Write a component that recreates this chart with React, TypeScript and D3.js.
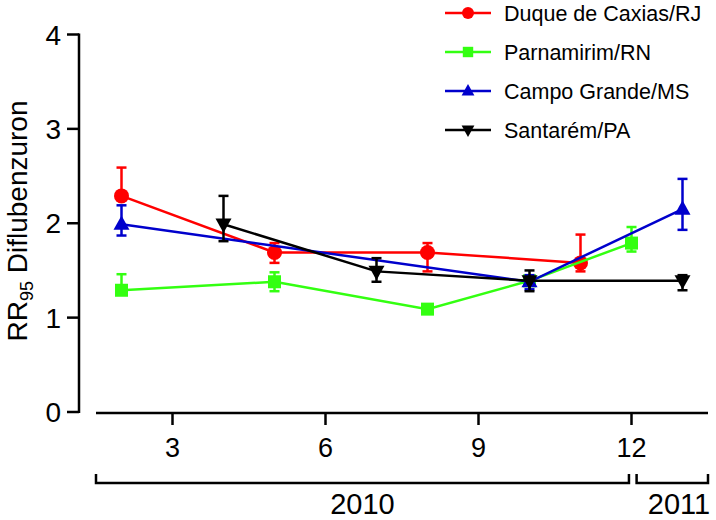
import React from "react";
import * as d3 from "d3";

const seriesNames = ["Duque de Caxias/RJ", "Parnamirim/RN", "Campo Grande/MS", "Santarém/PA"];
const seriesColors = ["#ff0000", "#33ff11", "#0000cc", "#000000"];
const seriesMarkers = ["circle", "square", "triangle", "triangleDown"];

const duqueMonths = [2, 5, 8, 11];
const duqueValues = [2.29, 1.69, 1.69, 1.58];
const duqueLow = [2.25, 1.58, 1.49, 1.49];
const duqueHigh = [2.59, 1.79, 1.79, 1.88];

const parnaMonths = [2, 5, 8, 10, 12];
const parnaValues = [1.29, 1.38, 1.09, 1.39, 1.79];
const parnaLow = [1.25, 1.28, 1.06, 1.36, 1.7];
const parnaHigh = [1.46, 1.48, 1.12, 1.42, 1.96];

const campoMonths = [2, 10, 13];
const campoValues = [1.99, 1.38, 2.15];
const campoLow = [1.87, 1.3, 1.93];
const campoHigh = [2.19, 1.45, 2.47];

const santMonths = [4, 7, 10, 13];
const santValues = [1.99, 1.49, 1.39, 1.39];
const santLow = [1.81, 1.38, 1.28, 1.29];
const santHigh = [2.29, 1.63, 1.5, 1.45];

const xTicks = [3, 6, 9, 12];
const yTicks = [0, 1, 2, 3, 4];
const yearLabels = ["2010", "2011"];
const yearStart = [1.5, 12.1];
const yearEnd = [11.95, 13.5];

const FONT = "'Liberation Sans', Arial, Helvetica, sans-serif";

function Marker({ type, x, y, color, s = 1 }: { type: string; x: number; y: number; color: string; s?: number }) {
  if (type === "circle") return <circle cx={x} cy={y} r={7.5 * s} fill={color} />;
  if (type === "square") return <rect x={x - 6.5 * s} y={y - 6.5 * s} width={13 * s} height={13 * s} fill={color} />;
  const h = 8 * s;
  if (type === "triangle")
    return <path d={`M${x},${y - h * 1.1} L${x + h},${y + h * 0.7} L${x - h},${y + h * 0.7} Z`} fill={color} />;
  return <path d={`M${x},${y + h * 1.1} L${x + h},${y - h * 0.7} L${x - h},${y - h * 0.7} Z`} fill={color} />;
}

export default function App() {
  const x = d3.scaleLinear().domain([1.5, 13.5]).range([96, 708]);
  const y = d3.scaleLinear().domain([0, 4]).range([412, 34.5]);

  const series = [
    { m: duqueMonths, v: duqueValues, lo: duqueLow, hi: duqueHigh },
    { m: parnaMonths, v: parnaValues, lo: parnaLow, hi: parnaHigh },
    { m: campoMonths, v: campoValues, lo: campoLow, hi: campoHigh },
    { m: santMonths, v: santValues, lo: santLow, hi: santHigh },
  ];

  const line = d3
    .line<[number, number]>()
    .x((d) => x(d[0]))
    .y((d) => y(d[1]));

  const axisX0 = 79;
  const xAxisY = 413;
  const bracketY = 483;

  return (
    <svg width={716} height={520} style={{ position: "absolute", left: 0, top: 0, background: "#fff" }} fontFamily={FONT}>
      {/* Y axis */}
      <line x1={axisX0} x2={axisX0} y1={y(4) - 1} y2={y(0) + 1} stroke="#000" strokeWidth={2.5} />
      {yTicks.map((t) => (
        <g key={t}>
          <line x1={axisX0 - 12} x2={axisX0} y1={y(t)} y2={y(t)} stroke="#000" strokeWidth={2.5} />
          <text x={61} y={y(t) + 10} textAnchor="end" fontSize={28}>
            {t}
          </text>
        </g>
      ))}
      <text transform={`translate(27,${221}) rotate(-90)`} textAnchor="middle" fontSize={28}>
        RR<tspan fontSize={18} dy={6}>95</tspan>
        <tspan dy={-6}> Diflubenzuron</tspan>
      </text>

      {/* X axis */}
      <line x1={x(1.5)} x2={x(13.5)} y1={xAxisY} y2={xAxisY} stroke="#000" strokeWidth={2.5} />
      {xTicks.map((t) => (
        <g key={t}>
          <line x1={x(t)} x2={x(t)} y1={xAxisY} y2={xAxisY + 12} stroke="#000" strokeWidth={2.5} />
          <text x={x(t)} y={457} textAnchor="middle" fontSize={27}>
            {t}
          </text>
        </g>
      ))}
      {yearLabels.map((lab, i) => {
        const a = x(yearStart[i]);
        const b = x(yearEnd[i]);
        return (
          <g key={lab}>
            <path
              d={`M${a},${bracketY - 9} L${a},${bracketY} L${b},${bracketY} L${b},${bracketY - 9}`}
              fill="none"
              stroke="#000"
              strokeWidth={2.5}
            />
            <text x={i === 0 ? (a + b) / 2 : b - 29} y={514} textAnchor="middle" fontSize={29}>
              {lab}
            </text>
          </g>
        );
      })}

      {/* Series */}
      {series.map((s, i) => {
        const pts: [number, number][] = s.m.map((m, j) => [m, s.v[j]]);
        const col = seriesColors[i];
        return (
          <g key={i}>
            <path d={line(pts) || ""} fill="none" stroke={col} strokeWidth={2.5} />
            {s.m.map((m, j) => (
              <g key={j}>
                <line x1={x(m)} x2={x(m)} y1={y(s.lo[j])} y2={y(s.hi[j])} stroke={col} strokeWidth={2.5} />
                <line x1={x(m) - 5} x2={x(m) + 5} y1={y(s.hi[j])} y2={y(s.hi[j])} stroke={col} strokeWidth={2.5} />
                <line x1={x(m) - 5} x2={x(m) + 5} y1={y(s.lo[j])} y2={y(s.lo[j])} stroke={col} strokeWidth={2.5} />
                <Marker type={seriesMarkers[i]} x={x(m)} y={y(s.v[j])} color={col} />
              </g>
            ))}
          </g>
        );
      })}

      {/* Legend */}
      {seriesNames.map((name, i) => {
        const ly = 13 + i * 39;
        return (
          <g key={name}>
            <line x1={445} x2={491} y1={ly} y2={ly} stroke={seriesColors[i]} strokeWidth={2.5} />
            <Marker type={seriesMarkers[i]} x={468} y={ly} color={seriesColors[i]} s={0.8} />
            <text x={504} y={ly + 8} fontSize={21.5}>
              {name}
            </text>
          </g>
        );
      })}
    </svg>
  );
}
